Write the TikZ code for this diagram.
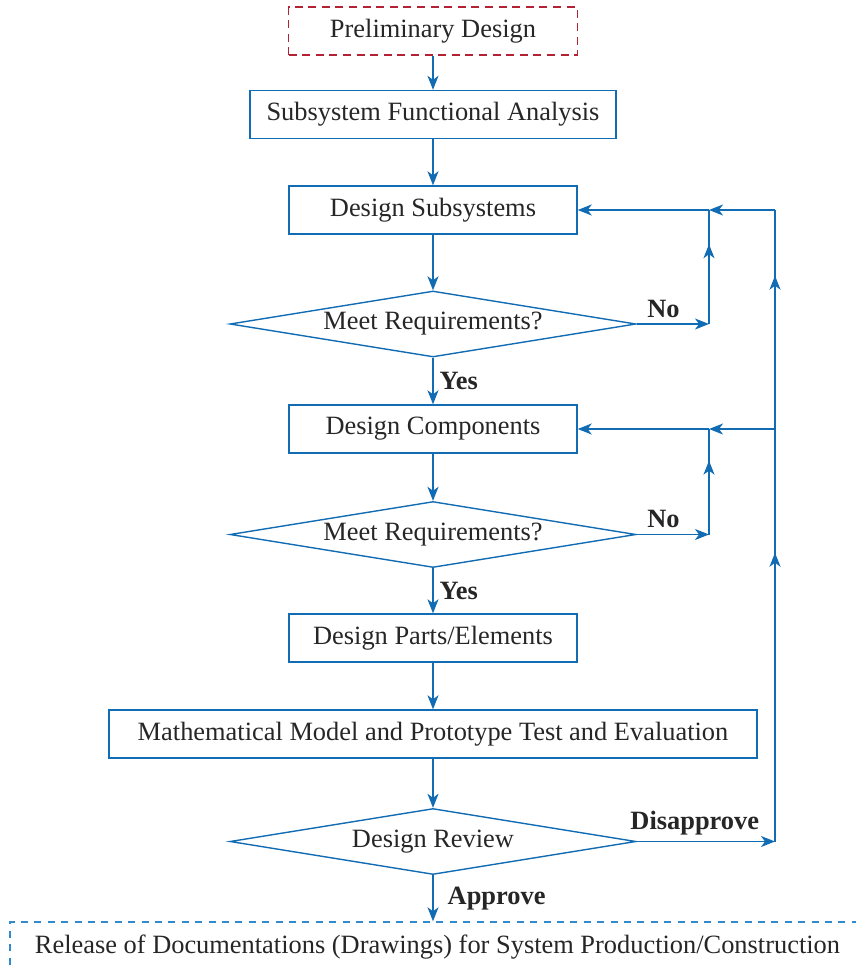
\documentclass[tikz,border=0pt]{standalone}
\usepackage{fontspec}
\setmainfont{Liberation Serif}
\usetikzlibrary{shapes.geometric,arrows.meta,decorations.markings}

\definecolor{flowblue}{RGB}{18,108,180}
\definecolor{prelimred}{RGB}{180,32,52}
\definecolor{releaseblue}{RGB}{48,138,206}

\tikzset{
  tip/.tip={Stealth[length=7pt,width=5.5pt,inset=2pt]},
  block/.style={draw=flowblue, line width=0.7pt, minimum height=24pt, inner sep=0pt},
  decision/.style={diamond, draw=flowblue, line width=0.7pt, aspect=6, inner sep=0pt,
    minimum width=203pt, minimum height=33pt},
  line/.style={draw=flowblue, line width=0.7pt},
  arrow/.style={line, -tip},
  midarrow/.style={line, postaction={decorate, decoration={markings,
    mark=at position 0.7 with {\arrow{tip}}}}},
  lbl/.style={font=\fontsize{13.2}{16}\selectfont\bfseries, inner sep=3pt}
}

\begin{document}
\begin{tikzpicture}[x=0.5pt, y=-0.5pt, font=\fontsize{13.2}{16}\selectfont, text=black!85]
  \clip (0,0) rectangle (856,970);

  % main column
  \node[block, draw=prelimred, dash pattern=on 4pt off 2.8pt, minimum width=144.5pt] (prelim) at (433,31) {Preliminary Design};
  \node[block, minimum width=183pt] (analysis) at (433,114.5) {Subsystem Functional Analysis};
  \node[block, minimum width=144pt] (subsys) at (433,210) {Design Subsystems};
  \node[decision] (check1) at (433,324) {Meet Requirements?};
  \node[block, minimum width=144pt] (comp) at (433,429) {Design Components};
  \node[decision] (check2) at (433,534.5) {Meet Requirements?};
  \node[block, minimum width=144pt] (parts) at (433,638) {Design Parts/Elements};
  \node[block, minimum width=324pt] (model) at (433,734) {Mathematical Model and Prototype Test and Evaluation};
  \node[decision] (review) at (433,841.5) {Design Review};
  \node[block, draw=releaseblue, dash pattern=on 3.5pt off 3.2pt, minimum width=427.5pt, minimum height=25pt] (release) at (437.5,947) {Release of Documentations (Drawings) for System Production/Construction};

  % feedback corners
  \coordinate (no1) at (709,324);
  \coordinate (back1) at (709,210);
  \coordinate (no2) at (709,534.5);
  \coordinate (back2) at (709,429);
  \coordinate (rev) at (775,841.5);
  \coordinate (up2) at (775,429);
  \coordinate (up1) at (775,210);

  \draw[arrow] (prelim) -- (analysis);
  \draw[arrow] (analysis) -- (subsys);
  \draw[arrow] (subsys) -- (check1);
  \draw[arrow] (check1) -- node[lbl, right] {Yes} (comp);
  \draw[arrow] (comp) -- (check2);
  \draw[arrow] (check2) -- node[lbl, right] {Yes} (parts);
  \draw[arrow] (parts) -- (model);
  \draw[arrow] (model) -- (review);
  \draw[arrow] (review.south) -- node[lbl, right, xshift=4pt] {Approve} (review.south |- release.north);

  % no loops
  \draw[arrow] (check1.east) -- node[lbl, above, pos=0.37] {No} (no1);
  \draw[midarrow] (no1) -- (back1);
  \draw[arrow] (back1) -- (subsys.east);
  \draw[arrow] (check2.east) -- node[lbl, above, pos=0.37] {No} (no2);
  \draw[midarrow] (no2) -- (back2);
  \draw[arrow] (back2) -- (comp.east);

  % disapprove loop
  \draw[arrow] (review.east) -- node[lbl, above, pos=0.42] {Disapprove} (rev);
  \draw[midarrow] (rev) -- (up2);
  \draw[midarrow] (up2) -- (up1);
  \draw[arrow] (up1) -- (back1);
  \draw[arrow] (up2) -- (back2);
\end{tikzpicture}
\end{document}
